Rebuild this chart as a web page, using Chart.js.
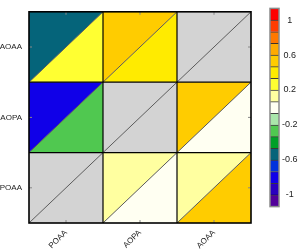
<!DOCTYPE html>
<html><head><meta charset="utf-8">
<script src="https://cdn.jsdelivr.net/npm/chart.js@4/dist/chart.umd.min.js"></script>
<style>
html,body{margin:0;padding:0;background:#fff;overflow:hidden}
#wrap{position:relative;width:298px;height:249px}
#main{position:absolute;left:0;top:0;width:298px;height:249px}
#cb{position:absolute;left:262px;top:0;width:36px;height:215px}
</style></head><body>
<div id="wrap"><canvas id="main" width="298" height="249"></canvas><canvas id="cb" width="36" height="215"></canvas></div>
<script>
// ---- data ----
const categories = ['POAA', 'AOPA', 'AOAA'];   // columns, left to right
const rowLabels  = ['POAA', 'AOPA', 'AOAA'];   // rows, bottom to top
// values per cell [row][col]; null = diagonal (no value)
const upperLeft  = [ [null, 0.13, 0.13], [-0.80, null, 0.53], [-0.53, 0.53, null] ];
const lowerRight = [ [null, 0.00, 0.53], [-0.27, null, 0.00], [0.27, 0.40, null] ];
const colorbarTicks = [-1, -0.6, -0.2, 0.2, 0.6, 1];
const levelMin = -17 / 15;
const levelStep = 2 / 15;
const levelColors = ['#52009a','#2a00be','#1000e8','#0032dc','#05647a','#00a028','#50c850','#aae6aa',
  '#fffff2','#ffffa0','#ffff32','#ffeb00','#ffcc00','#ffaa00','#ff7800','#ff3c00','#ff0000'];
const missingColor = '#d3d3d3';

function colorFor(v) {
  if (v === null) return missingColor;
  let i = Math.floor((v - levelMin) / levelStep);
  i = Math.max(0, Math.min(levelColors.length - 1, i));
  return levelColors[i];
}

const datasets = [];
for (let r = 0; r < rowLabels.length; r++) {
  for (let c = 0; c < categories.length; c++) {
    datasets.push({
      data: [{x:c,y:r},{x:c,y:r+1},{x:c+1,y:r+1},{x:c,y:r}],
      showLine: true, fill: 'shape', backgroundColor: colorFor(upperLeft[r][c]),
      borderColor: 'rgba(0,0,0,0)', borderWidth: 0, pointRadius: 0, tension: 0, order: 2
    });
    datasets.push({
      data: [{x:c,y:r},{x:c+1,y:r},{x:c+1,y:r+1},{x:c,y:r}],
      showLine: true, fill: 'shape', backgroundColor: colorFor(lowerRight[r][c]),
      borderColor: 'rgba(0,0,0,0)', borderWidth: 0, pointRadius: 0, tension: 0, order: 2
    });
    datasets.push({
      data: [{x:c,y:r},{x:c+1,y:r+1}],
      showLine: true, fill: false, borderColor: '#5a5a5a', borderWidth: 1, pointRadius: 0, order: 1
    });
  }
}

const labelFont = {family: 'Liberation Sans, Arial, sans-serif', size: 8};

const mainFrame = {
  id: 'mainFrame',
  afterDraw(chart) {
    const {ctx, chartArea: a, scales} = chart;
    ctx.save();
    // cell boundaries from the grid scales
    ctx.strokeStyle = '#000';
    ctx.lineWidth = 1.2;
    scales.xg.ticks.forEach(t => {
      const px = scales.xg.getPixelForValue(t.value);
      ctx.beginPath(); ctx.moveTo(px, a.top); ctx.lineTo(px, a.bottom); ctx.stroke();
    });
    scales.yg.ticks.forEach(t => {
      const py = scales.yg.getPixelForValue(t.value);
      ctx.beginPath(); ctx.moveTo(a.left, py); ctx.lineTo(a.right, py); ctx.stroke();
    });
    ctx.strokeStyle = '#888';
    ctx.lineWidth = 1;
    scales.x.ticks.forEach(t => {
      const px = scales.x.getPixelForValue(t.value);
      ctx.beginPath(); ctx.moveTo(px, a.bottom); ctx.lineTo(px, a.bottom - 3);
      ctx.moveTo(px, a.top); ctx.lineTo(px, a.top + 3); ctx.stroke();
    });
    scales.y.ticks.forEach(t => {
      const py = scales.y.getPixelForValue(t.value);
      ctx.beginPath(); ctx.moveTo(a.left, py); ctx.lineTo(a.left + 3, py);
      ctx.moveTo(a.right, py); ctx.lineTo(a.right - 3, py); ctx.stroke();
    });
    ctx.strokeStyle = '#000';
    ctx.lineWidth = 1.6;
    ctx.strokeRect(a.left, a.top, a.right - a.left, a.bottom - a.top);
    ctx.restore();
  }
};

new Chart(document.getElementById('main'), {
  type: 'scatter',
  data: { datasets },
  options: {
    responsive: false, animation: false, events: [],
    layout: { padding: { top: 1, right: 47, left: 0, bottom: 0 } },
    plugins: { legend: { display: false }, tooltip: { enabled: false } },
    scales: {
      x: {
        type: 'linear', min: 0, max: 3, position: 'bottom',
        afterBuildTicks: s => { s.ticks = categories.map((_, i) => ({ value: i + 0.5 })); },
        ticks: { callback: v => categories[Math.round(v - 0.5)], minRotation: 45, maxRotation: 45,
                 font: labelFont, color: '#222', padding: 5 },
        grid: { display: false, drawTicks: false }, border: { display: false },
        afterFit: s => { s.height = 26; }
      },
      y: {
        type: 'linear', min: 0, max: 3, position: 'left',
        afterBuildTicks: s => { s.ticks = rowLabels.map((_, i) => ({ value: i + 0.5 })); },
        ticks: { callback: v => rowLabels[Math.round(v - 0.5)], font: labelFont, color: '#222', padding: 7 },
        grid: { display: false, drawTicks: false }, border: { display: false },
        afterFit: s => { s.width = 29; }
      },
      xg: {
        type: 'linear', min: 0, max: 3, position: 'bottom',
        afterBuildTicks: s => { s.ticks = [{ value: 1 }, { value: 2 }]; },
        ticks: { display: false },
        grid: { display: false, drawTicks: false }, border: { display: false },
        afterFit: s => { s.height = 0; }
      },
      yg: {
        type: 'linear', min: 0, max: 3, position: 'left',
        afterBuildTicks: s => { s.ticks = [{ value: 1 }, { value: 2 }]; },
        ticks: { display: false },
        grid: { display: false, drawTicks: false }, border: { display: false },
        afterFit: s => { s.width = 0; }
      }
    }
  },
  plugins: [mainFrame]
});

const cbFrame = {
  id: 'cbFrame',
  afterDraw(chart) {
    const {ctx, chartArea: a} = chart;
    ctx.save();
    ctx.strokeStyle = '#8a8a8a';
    ctx.lineWidth = 1.5;
    ctx.strokeRect(a.left, a.top, a.right - a.left, a.bottom - a.top);
    ctx.restore();
  }
};

new Chart(document.getElementById('cb'), {
  type: 'bar',
  data: {
    labels: [''],
    datasets: levelColors.map((col, i) => ({
      data: [[levelMin + i * levelStep, levelMin + (i + 1) * levelStep]],
      backgroundColor: col, borderColor: 'rgba(0,0,0,0.75)',
      borderWidth: { top: 1, bottom: 0, left: 0, right: 0 }, borderSkipped: false,
      categoryPercentage: 1, barPercentage: 1
    }))
  },
  options: {
    responsive: false, animation: false, events: [],
    layout: { padding: { left: 8, top: 3, bottom: 5, right: 0 } },
    plugins: { legend: { display: false }, tooltip: { enabled: false } },
    scales: {
      x: { stacked: true, display: false },
      y: {
        position: 'right', min: levelMin, max: -levelMin,
        afterBuildTicks: s => { s.ticks = colorbarTicks.map(v => ({ value: v })); },
        ticks: { callback: v => String(v), crossAlign: 'center', padding: 3,
                 font: { family: 'Liberation Sans, Arial, sans-serif', size: 9 }, color: '#222' },
        grid: { display: false, drawTicks: false }, border: { display: false },
        afterFit: s => { s.width = 19; }
      }
    }
  },
  plugins: [cbFrame]
});
</script>
</body></html>
